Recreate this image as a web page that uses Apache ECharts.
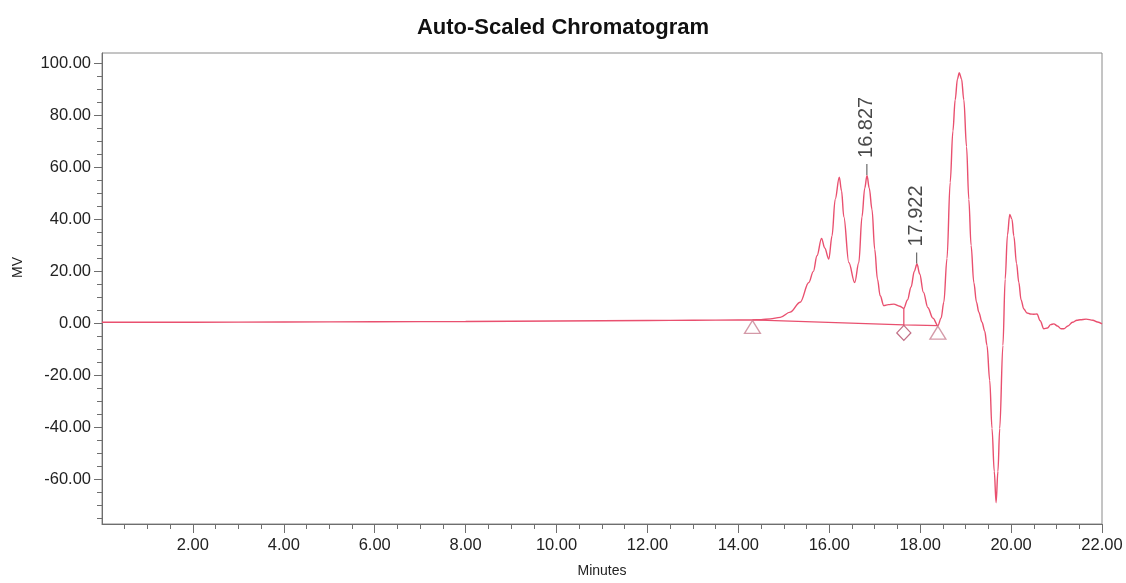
<!DOCTYPE html>
<html>
<head>
<meta charset="utf-8">
<script src="https://cdn.jsdelivr.net/npm/echarts@6/dist/echarts.min.js"></script>
<style>html,body{margin:0;padding:0;background:#fff}#c{width:1126px;height:583px}</style>
</head>
<body>
<div id="c"></div>
<script>
// ---- data ----
const timeMin = [0, 2, 4, 6, 8, 10, 12, 13, 14, 14.31, 14.5, 14.7, 14.92, 15.14, 15.36, 15.55, 15.65, 15.73, 15.83, 15.9, 15.99, 16.06, 16.13, 16.22, 16.27, 16.32, 16.43, 16.56, 16.65, 16.72, 16.78, 16.83, 16.88, 16.94, 17.0, 17.06, 17.12, 17.2, 17.3, 17.42, 17.55, 17.64, 17.72, 17.8, 17.87, 17.93, 17.99, 18.07, 18.17, 18.28, 18.39, 18.46, 18.52, 18.59, 18.66, 18.72, 18.77, 18.82, 18.86, 18.91, 18.96, 19.02, 19.07, 19.12, 19.18, 19.24, 19.29, 19.36, 19.42, 19.47, 19.53, 19.58, 19.63, 19.67, 19.71, 19.75, 19.82, 19.87, 19.92, 19.97, 20.02, 20.06, 20.12, 20.17, 20.22, 20.28, 20.35, 20.42, 20.5, 20.57, 20.64, 20.72, 20.8, 20.87, 20.94, 21.02, 21.1, 21.16, 21.25, 21.35, 21.45, 21.52, 21.65, 21.8, 21.9, 22.0];
const signalMV = [0.4, 0.4, 0.5, 0.6, 0.7, 0.9, 1.1, 1.2, 1.3, 1.3, 1.4, 1.7, 2.3, 4.3, 8.1, 15.7, 20, 26, 32.7, 29, 24.7, 33.6, 47.7, 56.2, 51, 41, 23.4, 15.7, 23.4, 41, 52, 56.9, 52, 43.8, 28.5, 17, 10.6, 6.8, 7.2, 7.4, 6.6, 5.8, 9, 14, 20, 22.8, 19, 12, 6, 2, -0.9, 2, 8.1, 25, 54.2, 74, 86, 94, 96.4, 94, 86, 68, 47.7, 30, 15.7, 8, 4.3, 0.4, -3, -8.5, -22, -40.4, -57, -69, -57, -40.4, -8.5, 17, 34, 41.9, 40, 33.6, 23, 15.7, 9, 5.5, 4, 3.6, 3.5, 3.6, 1, -2.1, -1.8, -0.5, -0.2, -1, -2.1, -2.1, -1, 0.4, 1.2, 1.4, 1.6, 1.2, 0.5, -0.2];

const baselineTime = [14.31, 17.64, 18.39];
const baselineMV = [1.3, -0.6, -0.9];
const dropTime = [17.64, 17.64];
const dropMV = [5.8, -0.6];

const peakTimes = [16.827, 17.922];
const peakMV = [56.9, 22.8];
const peakLabels = ['16.827', '17.922'];

const triangleTime = [14.31, 18.39];
const triangleMV = [1.3, -0.9];
const diamondTime = [17.64];
const diamondMV = [-0.6];

const xMajorTicks = [2, 4, 6, 8, 10, 12, 14, 16, 18, 20, 22];
const xMinorTicks = [0.5, 1, 1.5, 2.5, 3, 3.5, 4.5, 5, 5.5, 6.5, 7, 7.5, 8.5, 9, 9.5, 10.5, 11, 11.5, 12.5, 13, 13.5, 14.5, 15, 15.5, 16.5, 17, 17.5, 18.5, 19, 19.5, 20.5, 21, 21.5];
const yMajorTicks = [-60, -40, -20, 0, 20, 40, 60, 80, 100];
const yMinorTicks = [-75, -70, -65, -60, -55, -50, -45, -40, -35, -30, -25, -20, -15, -10, -5, 0, 5, 10, 15, 20, 25, 30, 35, 40, 45, 50, 55, 60, 65, 70, 75, 80, 85, 90, 95, 100];

// ---- chart ----
const zip = (a, b) => a.map((v, i) => [v, b[i]]);
const lineColor = '#e9506f';
const axisGray = '#6e6e6e';
const font = '"Liberation Sans", Arial, sans-serif';

const chart = echarts.init(document.getElementById('c'), null, {renderer: 'canvas'});
chart.setOption({
  animation: false,
  backgroundColor: '#ffffff',
  title: {
    text: 'Auto-Scaled Chromatogram',
    left: 'center',
    top: 12,
    textStyle: {fontFamily: font, fontWeight: 'bold', fontSize: 22, color: '#111'}
  },
  grid: {left: 102, right: 24, top: 53, bottom: 57, show: true, borderColor: '#8a8a8a', borderWidth: 1, backgroundColor: 'transparent'},
  xAxis: [{
    type: 'value', min: 0, max: 22,
    name: 'Minutes', nameLocation: 'middle', nameGap: 40,
    nameTextStyle: {fontFamily: font, fontSize: 14, color: '#222'},
    axisLine: {show: true, onZero: false, lineStyle: {color: axisGray, width: 1}},
    axisTick: {show: true, inside: false, length: 9, customValues: xMajorTicks, lineStyle: {color: axisGray}},
    splitLine: {show: false},
    axisLabel: {
      fontFamily: font, fontSize: 16.5, color: '#222', margin: 13,
      customValues: xMajorTicks,
      formatter: v => v.toFixed(2)
    }
  }, {
    type: 'value', min: 0, max: 22, position: 'bottom', offset: 0,
    axisLine: {show: false, onZero: false},
    axisTick: {show: true, length: 5, customValues: xMinorTicks, lineStyle: {color: axisGray}},
    axisLabel: {show: false, customValues: xMinorTicks},
    splitLine: {show: false}
  }],
  yAxis: [{
    type: 'value', min: -77.2, max: 104,
    position: 'left',
    axisLine: {show: true, onZero: false, lineStyle: {color: axisGray, width: 1}},
    axisTick: {show: true, length: 8, customValues: yMajorTicks, lineStyle: {color: axisGray}},
    splitLine: {show: false},
    axisLabel: {
      fontFamily: font, fontSize: 16.5, color: '#222', margin: 11,
      customValues: yMajorTicks,
      formatter: v => v.toFixed(2)
    }
  }, {
    type: 'value', min: -77.2, max: 104,
    position: 'left', offset: 0,
    axisLine: {show: false, onZero: false},
    axisTick: {show: true, length: 5, customValues: yMinorTicks, lineStyle: {color: axisGray}},
    axisLabel: {show: false, customValues: yMinorTicks},
    splitLine: {show: false}
  }],
  graphic: [{
    type: 'text', left: 11, top: 257, rotation: Math.PI / 2,
    style: {text: 'MV', font: '14px ' + font, fill: '#222'}
  }],
  series: [
    {
      type: 'line', name: 'signal', data: zip(timeMin, signalMV),
      showSymbol: false, smooth: 0.35, smoothMonotone: 'x',
      lineStyle: {color: lineColor, width: 1.4}, z: 3, silent: true
    },
    {
      type: 'line', name: 'baseline', data: zip(baselineTime, baselineMV),
      showSymbol: false, lineStyle: {color: lineColor, width: 1.3}, z: 3, silent: true
    },
    {
      type: 'line', name: 'drop', data: zip(dropTime, dropMV),
      showSymbol: false, lineStyle: {color: lineColor, width: 1.3}, z: 3, silent: true
    },
    {
      type: 'scatter', name: 'peaks', data: zip(peakTimes, peakMV),
      symbol: 'rect', symbolSize: [1.2, 11], symbolOffset: [0, -6],
      itemStyle: {color: '#444'}, z: 4, silent: true,
      label: {
        show: true, position: 'top', distance: 6, rotate: 90,
        align: 'left', verticalAlign: 'middle',
        fontFamily: font, fontSize: 20, color: '#1a1a1a',
        formatter: p => peakLabels[p.dataIndex]
      }
    },
    {
      type: 'scatter', name: 'triangles', data: zip(triangleTime, triangleMV),
      symbol: 'triangle', symbolSize: [16, 13], symbolOffset: [0, 7],
      itemStyle: {color: 'rgba(255,255,255,0)', borderColor: '#c98192', borderWidth: 1.3},
      z: 5, silent: true
    },
    {
      type: 'scatter', name: 'diamond', data: zip(diamondTime, diamondMV),
      symbol: 'diamond', symbolSize: [14, 15], symbolOffset: [0, 8],
      itemStyle: {color: 'rgba(255,255,255,0)', borderColor: '#b24a66', borderWidth: 1.3},
      z: 5, silent: true
    }
  ]
});
</script>
</body>
</html>
